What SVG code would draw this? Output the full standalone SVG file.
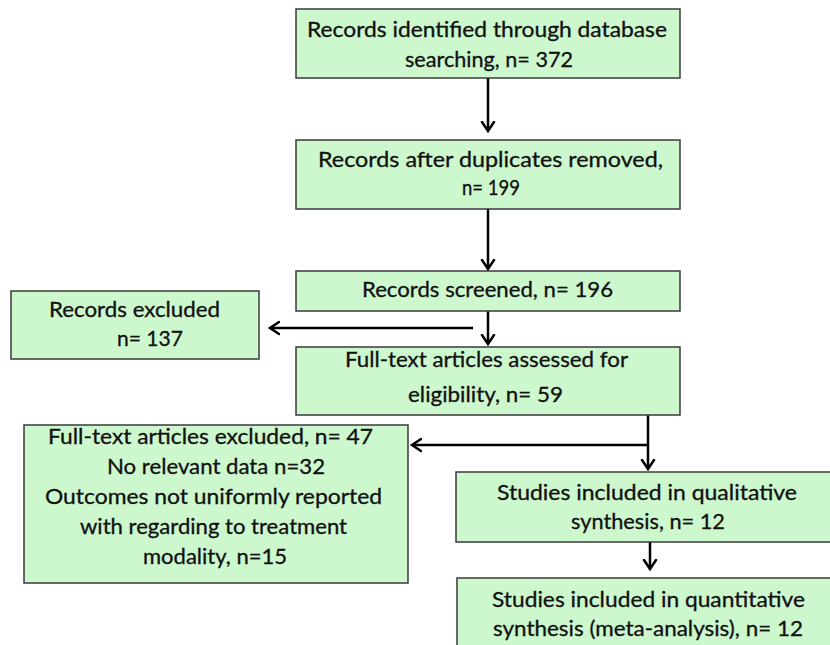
<svg xmlns="http://www.w3.org/2000/svg" width="830" height="645" viewBox="0 0 830 645">
  <style>
    .box { fill: #cdf7cd; stroke: #3a3a3a; stroke-width: 1.5; }
    .lbl { font-family: Lato, "Liberation Sans", sans-serif; font-size: 20.5px; fill: #111; stroke: #111; stroke-width: 0.3; }
    .conn { fill: none; stroke: #000; stroke-width: 2.5; }
  </style>
  <defs>
    <marker id="head" markerUnits="userSpaceOnUse" markerWidth="20" markerHeight="20" refX="10" refY="10" orient="auto" viewBox="0 0 20 20">
      <path d="M1,4 L10,10 L1,16" fill="none" stroke="#000" stroke-width="2.5" stroke-linecap="round" stroke-linejoin="miter"/>
    </marker>
  </defs>
  <rect width="830" height="645" fill="#ffffff"/>

  <g id="connectors">
    <path class="conn" d="M488,78 V131" marker-end="url(#head)"/>
    <path class="conn" d="M488,209 V269" marker-end="url(#head)"/>
    <path class="conn" d="M488,311 V344" marker-end="url(#head)"/>
    <path class="conn" d="M473,328 H270" marker-end="url(#head)"/>
    <path class="conn" d="M648,415 V469" marker-end="url(#head)"/>
    <path class="conn" d="M648,445 H412" marker-end="url(#head)"/>
    <path class="conn" d="M650,542 V569" marker-end="url(#head)"/>
  </g>

  <g id="identified">
    <rect class="box" x="296" y="9" width="384" height="69"/>
    <text class="lbl" x="307" y="37" textLength="360" lengthAdjust="spacingAndGlyphs">Records identified through database</text>
    <text class="lbl" x="405" y="67" textLength="168" lengthAdjust="spacingAndGlyphs">searching, n= 372</text>
  </g>

  <g id="deduplicated">
    <rect class="box" x="296" y="140" width="384" height="69"/>
    <text class="lbl" x="318" y="167" textLength="345" lengthAdjust="spacingAndGlyphs">Records after duplicates removed,</text>
    <text class="lbl" x="462" y="195" textLength="58" lengthAdjust="spacingAndGlyphs">n= 199</text>
  </g>

  <g id="screened">
    <rect class="box" x="296" y="271" width="384" height="40"/>
    <text class="lbl" x="362" y="297" textLength="251" lengthAdjust="spacingAndGlyphs">Records screened, n= 196</text>
  </g>

  <g id="records-excluded">
    <rect class="box" x="11" y="291" width="248" height="68"/>
    <text class="lbl" x="49" y="317" textLength="171" lengthAdjust="spacingAndGlyphs">Records excluded</text>
    <text class="lbl" x="117" y="346" textLength="66" lengthAdjust="spacingAndGlyphs">n= 137</text>
  </g>

  <g id="fulltext-assessed">
    <rect class="box" x="296" y="347" width="384" height="68"/>
    <text class="lbl" x="345" y="367" textLength="283" lengthAdjust="spacingAndGlyphs">Full-text articles assessed for</text>
    <text class="lbl" x="408" y="402" textLength="155" lengthAdjust="spacingAndGlyphs">eligibility, n= 59</text>
  </g>

  <g id="fulltext-excluded">
    <rect class="box" x="24" y="425" width="384" height="158"/>
    <text class="lbl" x="48" y="444" textLength="325" lengthAdjust="spacingAndGlyphs">Full-text articles excluded, n= 47</text>
    <text class="lbl" x="107" y="474" textLength="218" lengthAdjust="spacingAndGlyphs">No relevant data n=32</text>
    <text class="lbl" x="45" y="504" textLength="337" lengthAdjust="spacingAndGlyphs">Outcomes not uniformly reported</text>
    <text class="lbl" x="80" y="534" textLength="267" lengthAdjust="spacingAndGlyphs">with regarding to treatment</text>
    <text class="lbl" x="143" y="564" textLength="144" lengthAdjust="spacingAndGlyphs">modality, n=15</text>
  </g>

  <g id="qualitative">
    <rect class="box" x="456" y="472" width="380" height="70"/>
    <text class="lbl" x="497" y="500" textLength="300" lengthAdjust="spacingAndGlyphs">Studies included in qualitative</text>
    <text class="lbl" x="571" y="529" textLength="154" lengthAdjust="spacingAndGlyphs">synthesis, n= 12</text>
  </g>

  <g id="quantitative">
    <rect class="box" x="457" y="578" width="380" height="75"/>
    <text class="lbl" x="492" y="607" textLength="313" lengthAdjust="spacingAndGlyphs">Studies included in quantitative</text>
    <text class="lbl" x="493" y="636" textLength="310" lengthAdjust="spacingAndGlyphs">synthesis (meta-analysis), n= 12</text>
  </g>
</svg>
